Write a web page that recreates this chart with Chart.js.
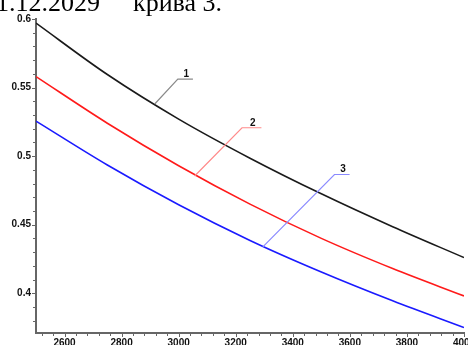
<!DOCTYPE html>
<html>
<head>
<meta charset="utf-8">
<script src="https://cdn.jsdelivr.net/npm/chart.js@4"></script>
<style>
  html, body { margin: 0; padding: 0; background: #fff; }
  #wrap { position: relative; width: 468px; height: 345px; overflow: hidden; }
  canvas { position: absolute; left: 0; top: 0; }
  .hdr { position: absolute; font-family: "Liberation Serif", "Times New Roman", serif; font-size: 26px; line-height: 26px; color: #000; white-space: nowrap; top: -10px; }
</style>
</head>
<body>
<div id="wrap">
  <canvas id="c" width="468" height="345"></canvas>
  <span class="hdr" style="left:-4px">1.12.2029</span>
  <span class="hdr" style="left:133px">крива 3.</span>
</div>
<script>
// ---- data ----
const xValues = [2500, 2750, 3000, 3250, 3500, 3750, 4000];
const curve1 = [0.597, 0.5595, 0.527, 0.4985, 0.4725, 0.4485, 0.426];
const curve2 = [0.558, 0.524, 0.493, 0.465, 0.440, 0.418, 0.398];
const curve3 = [0.5255, 0.4935, 0.4645, 0.4385, 0.4155, 0.3945, 0.375];
const seriesNames = ['1', '2', '3'];
const xTickLabels = [2600, 2800, 3000, 3200, 3400, 3600, 3800, 4000];
const yTickLabels = [0.4, 0.45, 0.5, 0.55, 0.6];
// leader lines for curve labels (data units): anchor on curve, elbow, end
const leaderAnchorX = [2916, 3056, 3295];
const leaderAnchorY = [0.538, 0.4855, 0.4338];
const leaderElbowX = [2997, 3222, 3546];
const leaderElbowY = [0.5562, 0.5207, 0.4866];
const leaderEndX = [3050, 3290, 3599];
const leaderColors = ['#8a8a8a', '#ff8a8a', '#8a8aff'];

const toPts = arr => arr.map((v, i) => ({x: xValues[i], y: v}));

const fixAxis = (scale) => {
  scale.paddingLeft = 0; scale.paddingRight = 0;
  scale.paddingTop = 0; scale.paddingBottom = 0;
};

const extras = {
  id: 'extras',
  afterDraw(chart) {
    const ctx = chart.ctx;
    const xs = chart.scales.x, ys = chart.scales.y;
    const a = chart.chartArea;
    ctx.save();
    ctx.strokeStyle = '#666';
    ctx.lineWidth = 1;
    // x ticks (major every 200, minor every 40)
    for (let v = 2520; v <= 4000; v += 40) {
      const px = Math.round(xs.getPixelForValue(v)) + 0.5;
      const major = (v % 200 === 0);
      ctx.beginPath();
      ctx.moveTo(px, a.bottom);
      ctx.lineTo(px, a.bottom + (major ? 4 : 3));
      ctx.stroke();
    }
    // y ticks (major every 0.05, minor every 0.01)
    for (let k = 38; k <= 60; k++) {
      const v = k / 100;
      const py = Math.round(ys.getPixelForValue(v)) + 0.5;
      const major = (k % 5 === 0);
      ctx.beginPath();
      ctx.moveTo(a.left, py);
      ctx.lineTo(a.left - (major ? 4 : 3), py);
      ctx.stroke();
    }
    // leaders and labels
    for (let i = 0; i < seriesNames.length; i++) {
      const ax = xs.getPixelForValue(leaderAnchorX[i]);
      const ay = ys.getPixelForValue(leaderAnchorY[i]);
      const ex = xs.getPixelForValue(leaderElbowX[i]);
      const ey = ys.getPixelForValue(leaderElbowY[i]);
      const fx = xs.getPixelForValue(leaderEndX[i]);
      ctx.strokeStyle = leaderColors[i];
      ctx.lineWidth = 1.2;
      ctx.beginPath();
      ctx.moveTo(ax, ay);
      ctx.lineTo(ex, ey);
      ctx.lineTo(fx, ey);
      ctx.stroke();
      ctx.fillStyle = '#111';
      ctx.font = 'bold 10px "Liberation Sans", Arial, sans-serif';
      ctx.textAlign = 'center';
      ctx.textBaseline = 'alphabetic';
      ctx.fillText(seriesNames[i], (ex + fx) / 2 + 1, ey - 2);
    }
    ctx.restore();
  }
};

new Chart(document.getElementById('c'), {
  type: 'line',
  data: {
    datasets: [
      { label: seriesNames[0], data: toPts(curve1), borderColor: '#1a1a1a', borderWidth: 1.6 },
      { label: seriesNames[1], data: toPts(curve2), borderColor: '#ff1a1a', borderWidth: 1.6 },
      { label: seriesNames[2], data: toPts(curve3), borderColor: '#1a1aff', borderWidth: 1.6 }
    ]
  },
  options: {
    responsive: false,
    devicePixelRatio: 1,
    animation: false,
    events: [],
    layout: { padding: { left: 0, top: 19, right: 4, bottom: 0 } },
    elements: {
      point: { radius: 0 },
      line: { cubicInterpolationMode: 'monotone', fill: false }
    },
    plugins: { legend: { display: false }, tooltip: { enabled: false } },
    scales: {
      x: {
        type: 'linear',
        min: 2500, max: 4000,
        grid: { display: false, drawTicks: true, tickLength: 4 },
        border: { display: true, color: '#666', width: 2 },
        ticks: {
          padding: 0,
          maxRotation: 0,
          autoSkip: false,
          color: '#111',
          font: { family: '"Liberation Sans", Arial, sans-serif', size: 10, weight: 'bold' },
          callback: v => String(v)
        },
        afterBuildTicks: s => { s.ticks = xTickLabels.map(v => ({value: v})); },
        afterFit: s => { s.height = 12; fixAxis(s); }
      },
      y: {
        type: 'linear',
        min: 0.371, max: 0.6,
        grid: { display: false, drawTicks: true, tickLength: 3 },
        border: { display: true, color: '#666', width: 2 },
        ticks: {
          padding: 2,
          color: '#111',
          font: { family: '"Liberation Sans", Arial, sans-serif', size: 10, weight: 'bold' },
          callback: v => String(v)
        },
        afterBuildTicks: s => { s.ticks = yTickLabels.map(v => ({value: v})); },
        afterFit: s => { s.width = 36; fixAxis(s); }
      }
    }
  },
  plugins: [extras]
});
</script>
</body>
</html>
